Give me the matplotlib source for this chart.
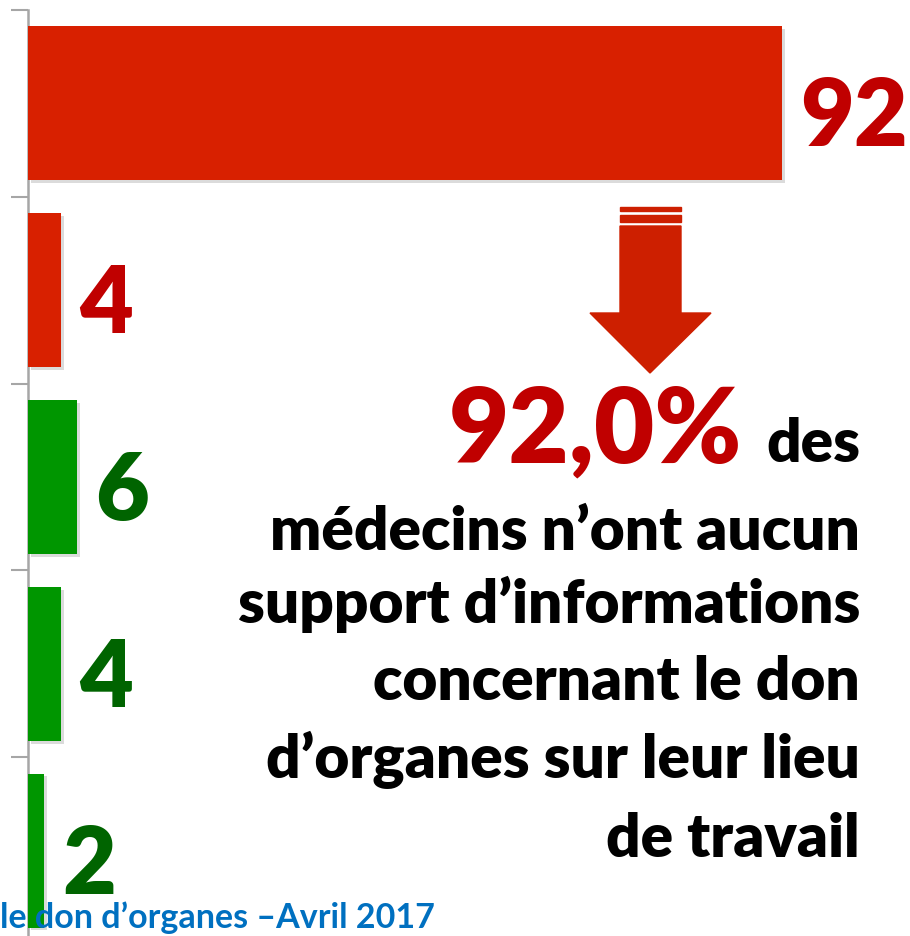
import matplotlib
matplotlib.use("Agg")
import matplotlib.pyplot as plt
from matplotlib.patches import Polygon, Rectangle
import matplotlib.patheffects as pe

# data
values = [92, 4, 6, 4, 2]
bar_colors = ["#D82000", "#D82000", "#009600", "#009600", "#009600"]
label_colors = ["#C00000", "#C00000", "#006400", "#006400", "#006400"]
headline = "92,0%"
headline_tail = "des"
body_lines = [
    "médecins n’ont aucun",
    "support d’informations",
    "concernant le don",
    "d’organes sur leur lieu",
    "de travail",
]
source_text = "le don d’organes –Avril 2017"

W, H = 910, 936
FONT = "Lato"
WEIGHT = "heavy"


def fx(x):
    return x / W


def fy(y):
    return 1 - y / H


def main() -> None:
    fig = plt.figure(figsize=(W / 100, H / 100), dpi=100)
    fig.patch.set_facecolor("white")

    # source line sits behind the bars
    fig.text(fx(0), fy(928), source_text, color="#0070C0", fontsize=24.5,
             fontweight="bold", family=FONT, ha="left", va="baseline", zorder=0)

    ax = fig.add_axes([fx(28), fy(944), 1 - fx(28), (944 - 10) / H])
    ax.patch.set_alpha(0)
    ypos = list(range(len(values)))
    bars = ax.barh(ypos, values, height=0.825, color=bar_colors, zorder=3)
    for b in bars:
        b.set_path_effects([pe.SimplePatchShadow(offset=(2, -2), shadow_rgbFace="#999999", alpha=0.35),
                            pe.Normal()])
    ax.set_xlim(0, (W - 28) / 8.2)
    ax.set_ylim(len(values) - 0.5, -0.5)

    for y, v, c in zip(ypos, values, label_colors):
        ax.annotate(str(v), xy=(v, y), xytext=(18, -43), textcoords="offset pixels",
                    ha="left", va="baseline", color=c, fontsize=67,
                    fontweight=WEIGHT, family=FONT)

    for s in ["top", "right", "bottom"]:
        ax.spines[s].set_visible(False)
    ax.spines["left"].set_color("#A6A6A6")
    ax.spines["left"].set_linewidth(1.8)
    ax.set_yticks([i - 0.5 for i in range(len(values) + 1)])
    ax.set_yticklabels([])
    ax.tick_params(axis="y", length=12, width=1.5, color="#A6A6A6", direction="out")
    ax.set_xticks([])

    # arrow
    arrow_color = "#CD1F00"
    fig.patches.append(Rectangle((fx(620), fy(211)), fx(61), (211 - 207) / H,
                                 transform=fig.transFigure, color=arrow_color))
    fig.patches.append(Rectangle((fx(620), fy(222)), fx(61), (222 - 215) / H,
                                 transform=fig.transFigure, color=arrow_color))
    pts = [(620, 226), (681, 226), (681, 313), (711, 313), (650, 373),
           (590, 313), (620, 313)]
    fig.patches.append(Polygon([(fx(x), fy(y)) for x, y in pts], closed=True,
                               transform=fig.transFigure, color=arrow_color))

    # annotation text
    fig.text(fx(860), fy(462), headline_tail, color="black", fontsize=43.5,
             fontweight=WEIGHT, family=FONT, ha="right", va="baseline")
    fig.text(fx(742), fy(462), headline, color="#C00000", fontsize=75,
             fontweight=WEIGHT, family=FONT, ha="right", va="baseline")
    baselines = [550, 623, 700, 778, 857]
    for line, b in zip(body_lines, baselines):
        fig.text(fx(860), fy(b), line, color="black", fontsize=43.5,
                 fontweight=WEIGHT, family=FONT, ha="right", va="baseline")

    fig.savefig("out.png", dpi=100)


if __name__ == "__main__":
    main()
